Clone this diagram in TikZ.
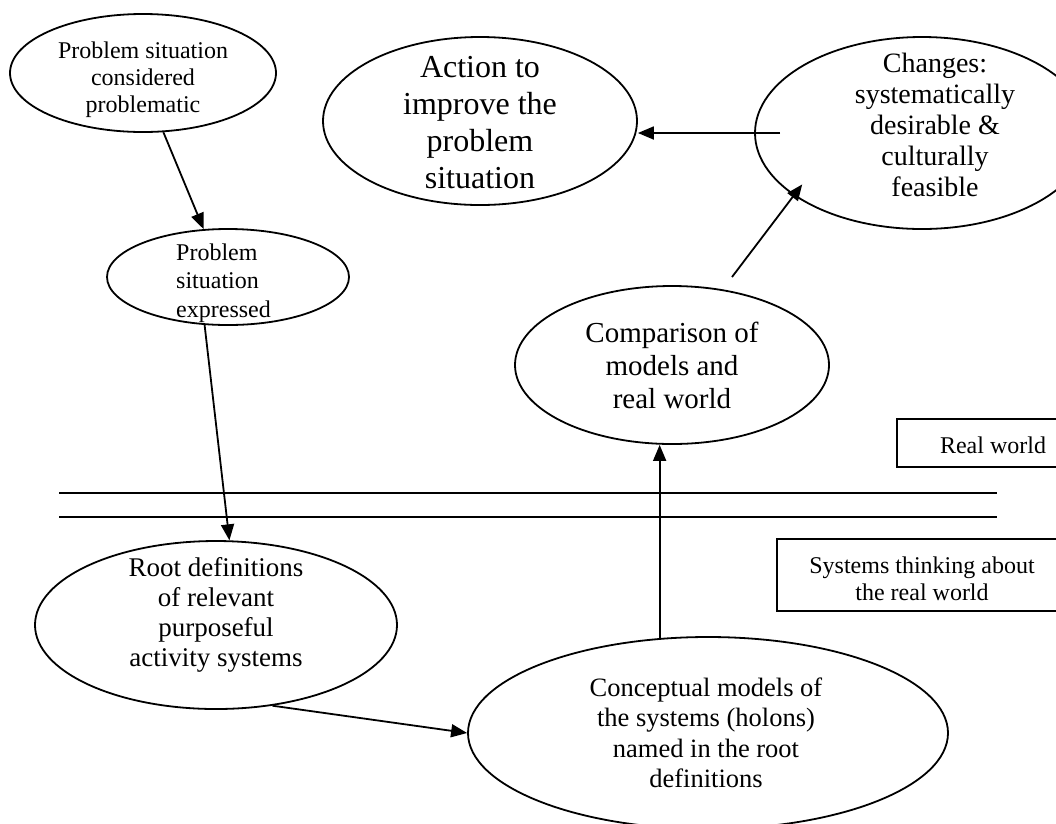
\documentclass[tikz,border=0pt]{standalone}
\usepackage{fontspec}
\setmainfont{Liberation Serif}
\usetikzlibrary{shapes.geometric,arrows.meta}
\begin{document}
\begin{tikzpicture}[x=1pt,y=-1pt,
  oval/.style={ellipse,draw,line width=1.8pt,inner sep=0pt},
  boxed/.style={rectangle,draw,line width=1.8pt,inner sep=0pt},
  txt/.style={inner sep=0pt,align=center},
  fa/.style={font=\fontsize{24}{27}\selectfont},
  fb/.style={font=\fontsize{24}{28.5}\selectfont},
  fc/.style={font=\fontsize{32}{37}\selectfont},
  fd/.style={font=\fontsize{28}{31}\selectfont},
  fe/.style={font=\fontsize{29}{33}\selectfont},
  ff/.style={font=\fontsize{27}{30}\selectfont},
  fg/.style={font=\fontsize{26.5}{30.5}\selectfont},
  arr/.style={line width=1.8pt,-{Triangle[length=16pt,width=13pt]}},
  rule/.style={line width=1.8pt}]
\useasboundingbox (0,0) rectangle (1056,823);
\clip (0,0) rectangle (1056,823);

% ellipses of the soft systems cycle
\node[oval,minimum width=266pt,minimum height=118pt] (n1) at (143,73) {};
\node[txt,fa] (t1) at (143,80) {Problem situation\\considered\\problematic};

\node[oval,minimum width=242pt,minimum height=96pt] (n2) at (228,277) {};
\node[txt,fb,align=left,anchor=west] (t2) at (176,283) {Problem\\situation\\expressed};

\node[oval,minimum width=314pt,minimum height=168pt] (n3) at (480,121) {};
\node[txt,fc] (t3) at (480,123) {Action to\\improve the\\problem\\situation};

\node[oval,minimum width=334pt,minimum height=192pt] (n4) at (922,133) {};
\node[txt,fd] (t4) at (935,125) {Changes:\\systematically\\desirable \&\\culturally\\feasible};

\node[oval,minimum width=314pt,minimum height=158pt] (n5) at (672,365) {};
\node[txt,fe] (t5) at (672,365) {Comparison of\\models and\\real world};

\node[oval,minimum width=362pt,minimum height=168pt] (n6) at (216,625) {};
\node[txt,ff] (t6) at (216,615) {Root definitions\\of relevant\\purposeful\\activity systems};

\node[oval,minimum width=480pt,minimum height=192pt] (n7) at (708,733) {};
\node[txt,fg] (t7) at (706,733) {Conceptual models of\\the systems (holons)\\named in the root\\definitions};

% labels of the two worlds
\node[boxed,minimum width=183pt,minimum height=48pt] (rw) at (988.5,443) {};
\node[txt,fa] (rwt) at (993,445) {Real world};
\node[boxed,minimum width=303pt,minimum height=72pt] (st) at (928.5,575) {};
\node[txt,fa] (stt) at (922,579) {Systems thinking about\\the real world};

% double line separating the real world from systems thinking
\coordinate (r1a) at (59,493);
\coordinate (r1b) at (997,493);
\coordinate (r2a) at (59,517);
\coordinate (r2b) at (997,517);
\draw[rule] (r1a) -- (r1b);
\draw[rule] (r2a) -- (r2b);

% connectors
\coordinate (c5) at (732,277);
\draw[arr] (n1.-71) -- (n2.117.5);
\draw[arr] (n2.-116.6) -- (n6.81.9);
\draw[arr] (n6.-55) -- (n7.west);
\draw[arr] (n7.117) -- (n7.117 |- n5.south);
\draw[arr,shorten >=-14pt] (c5) -- (n4.-154);
\draw[arr,shorten <=-26pt] (n4.west) -- (n4.west -| n3.east);
\end{tikzpicture}
\end{document}
